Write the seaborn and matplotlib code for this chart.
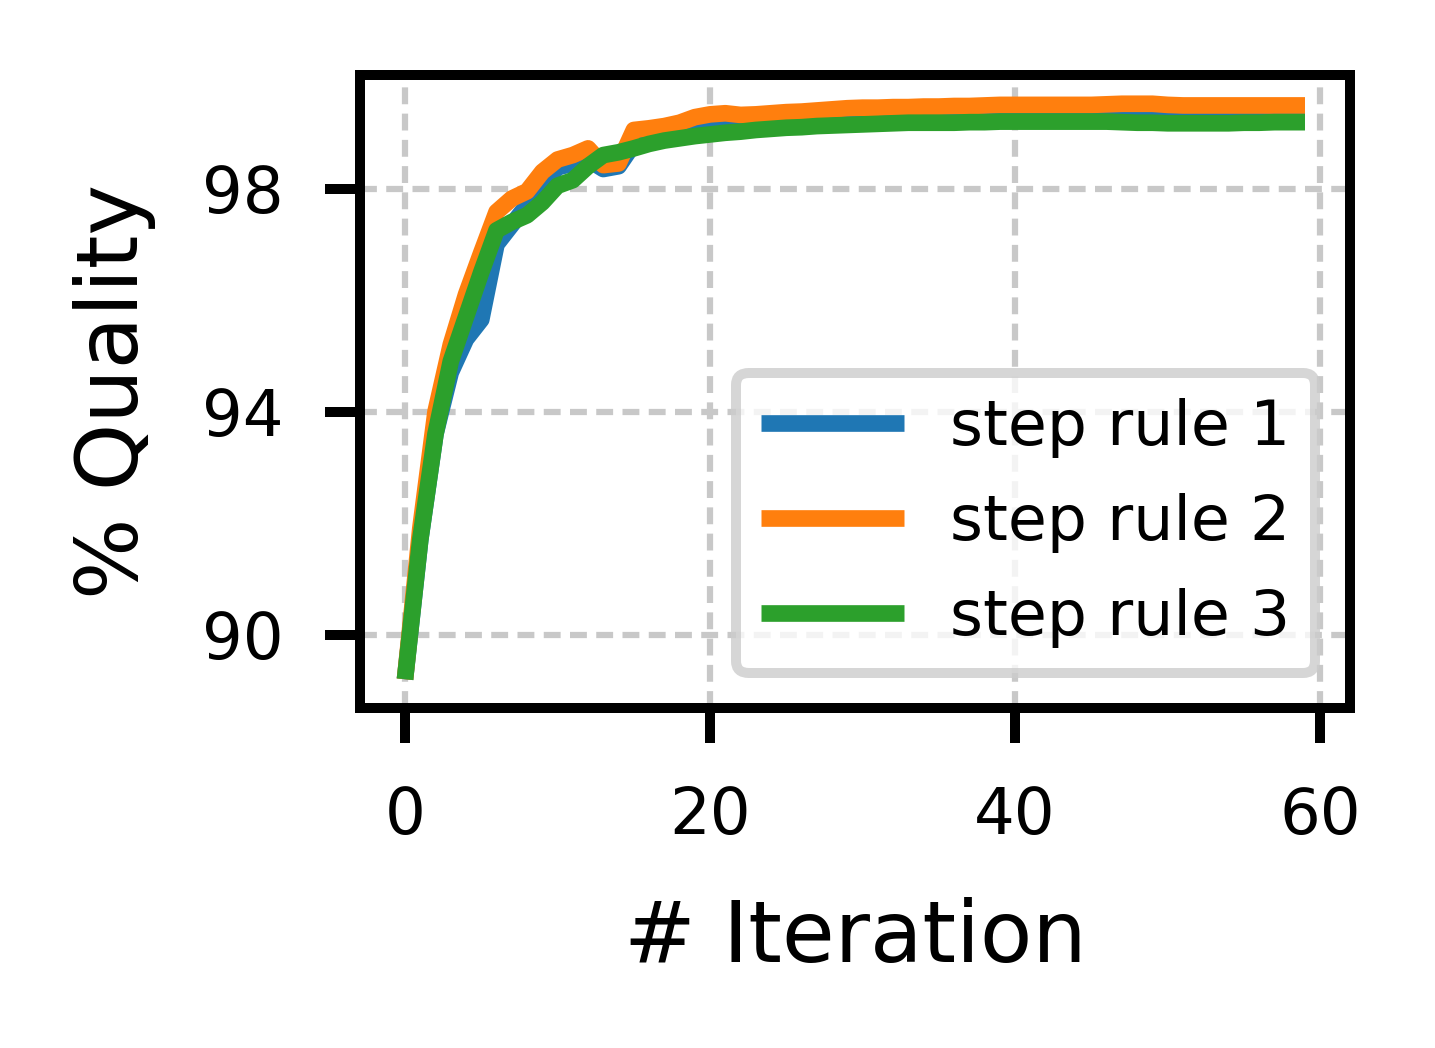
import numpy as np
import pandas as pd
import matplotlib
matplotlib.use("Agg")
import matplotlib.pyplot as plt
import seaborn as sns

iterations = list(range(60))

rule1 = [89.2, 91.7, 93.6, 94.7, 95.3, 95.65, 97.0, 97.35, 97.7, 98.05,
         98.38, 98.45, 98.52, 98.35, 98.4, 98.8, 98.85, 98.9, 98.95, 99.02,
         99.07, 99.1, 99.12, 99.14, 99.16, 99.17, 99.18, 99.19, 99.2, 99.21,
         99.22, 99.22, 99.23, 99.23, 99.24, 99.24, 99.24, 99.25, 99.25, 99.25,
         99.25, 99.25, 99.25, 99.25, 99.25, 99.25, 99.26, 99.26, 99.26, 99.26,
         99.25, 99.24, 99.24, 99.24, 99.24, 99.24, 99.24, 99.24, 99.24, 99.24]

rule2 = [89.2, 91.9, 94.0, 95.2, 96.1, 96.85, 97.58, 97.82, 97.95, 98.3,
         98.52, 98.6, 98.72, 98.42, 98.45, 99.05, 99.08, 99.12, 99.18, 99.28,
         99.33, 99.35, 99.32, 99.33, 99.35, 99.37, 99.38, 99.4, 99.42, 99.44,
         99.45, 99.45, 99.46, 99.46, 99.47, 99.47, 99.48, 99.48, 99.49, 99.5,
         99.5, 99.5, 99.5, 99.5, 99.5, 99.5, 99.51, 99.52, 99.52, 99.52,
         99.5, 99.49, 99.49, 99.49, 99.49, 99.49, 99.49, 99.49, 99.49, 99.49]

rule3 = [89.2, 91.7, 93.6, 94.9, 95.7, 96.5, 97.25, 97.4, 97.52, 97.75,
         98.05, 98.15, 98.4, 98.6, 98.65, 98.72, 98.8, 98.86, 98.9, 98.94,
         98.97, 99.0, 99.02, 99.05, 99.07, 99.09, 99.1, 99.12, 99.13, 99.14,
         99.15, 99.16, 99.17, 99.18, 99.18, 99.18, 99.18, 99.19, 99.19, 99.2,
         99.2, 99.2, 99.2, 99.2, 99.2, 99.2, 99.2, 99.19, 99.18, 99.18,
         99.17, 99.17, 99.17, 99.17, 99.17, 99.18, 99.18, 99.19, 99.19, 99.19]

labels = ["step rule 1", "step rule 2", "step rule 3"]
colors = ["#1f77b4", "#ff7f0e", "#2ca02c"]

df = pd.DataFrame({
    "iter": iterations * 3,
    "quality": rule1 + rule2 + rule3,
    "rule": [labels[0]] * 60 + [labels[1]] * 60 + [labels[2]] * 60,
})

sns.set_style("ticks")
plt.rcParams["font.family"] = ["DejaVu Sans"]
plt.rcParams["text.color"] = "black"
plt.rcParams["axes.labelcolor"] = "black"
plt.rcParams["xtick.color"] = "black"
plt.rcParams["ytick.color"] = "black"

fig = plt.figure(figsize=(1435 / 600, 1048 / 600), dpi=600)
ax = fig.add_axes([360 / 1435, 1 - 708 / 1048, 990 / 1435, 633 / 1048])

sns.lineplot(data=df, x="iter", y="quality", hue="rule", palette=colors,
             linewidth=2.0, solid_capstyle="butt", ax=ax)

ax.set_xticks([0, 20, 40, 60])
ax.set_yticks([90, 94, 98])
ax.grid(True, linestyle=(0, (2.7, 1.5)), color="#c8c8c8", linewidth=0.75)
ax.set_axisbelow(True)

for s in ax.spines.values():
    s.set_linewidth(1.2)
    s.set_color("black")
    s.set_visible(True)
ax.tick_params(axis="both", length=4.2, width=1.2, pad=5, labelsize=7.7,
               colors="black")
ax.set_xlabel("# Iteration", fontsize=10.3, labelpad=6, color="black")
ax.set_ylabel("% Quality", fontsize=10.3, labelpad=5.5, color="black")

leg = ax.legend(loc="lower right", fontsize=7.6, handlelength=2.25,
                handletextpad=0.72, labelspacing=0.55, framealpha=0.8,
                fancybox=True, borderaxespad=0.55)
leg.get_frame().set_linewidth(1.2)
leg.get_frame().set_edgecolor("0.8")
for h in leg.get_lines():
    h.set_linewidth(2.0)
    h.set_solid_capstyle("butt")
for t in leg.get_texts():
    t.set_color("black")

fig.savefig("out.png", dpi=600)
